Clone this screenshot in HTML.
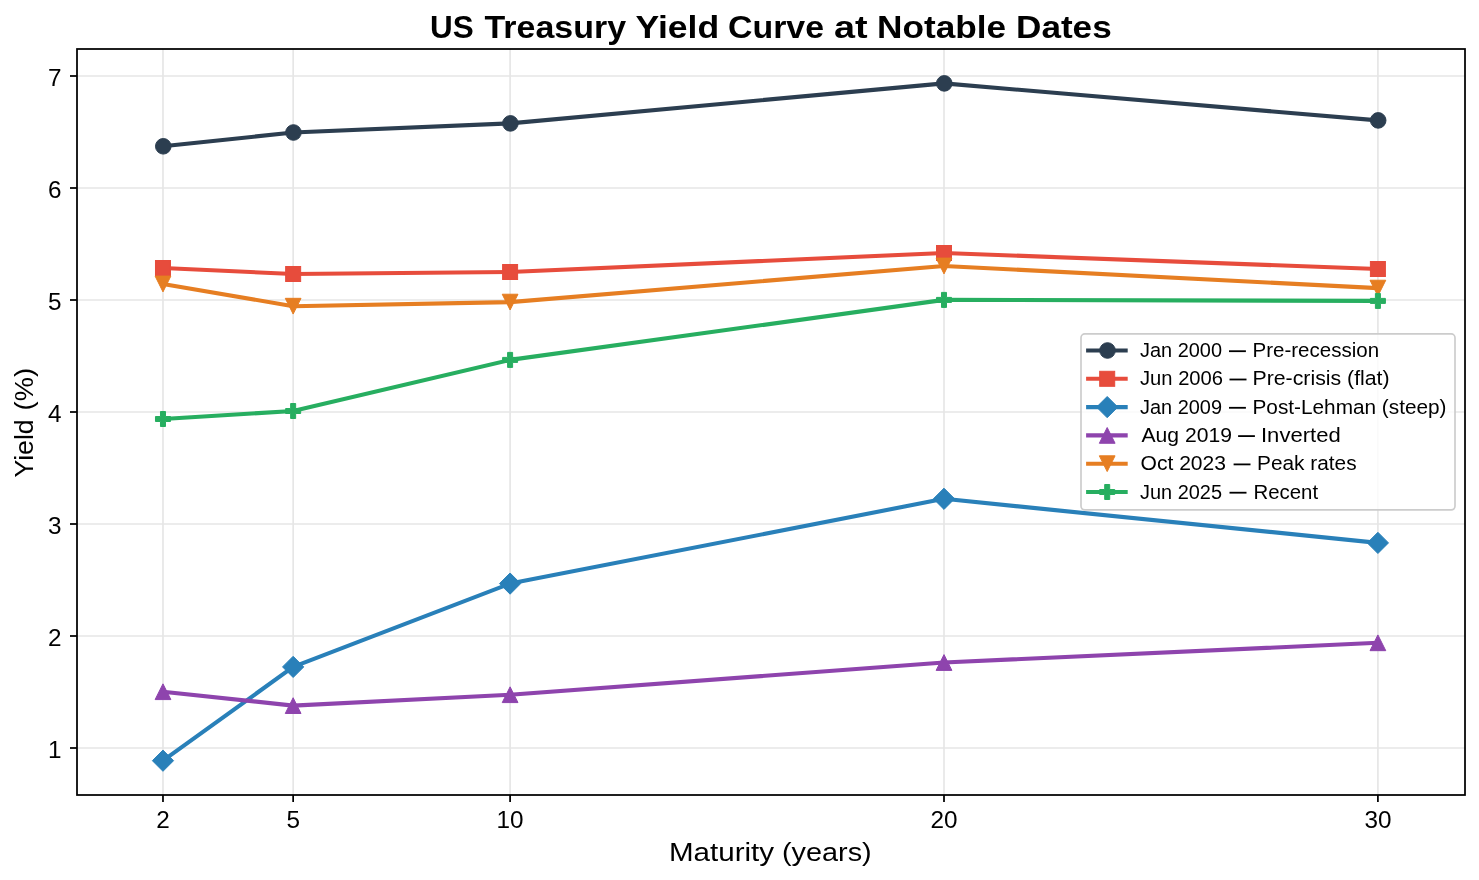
<!DOCTYPE html>
<html><head><meta charset="utf-8"><title>US Treasury Yield Curve at Notable Dates</title>
<style>html,body{margin:0;padding:0;background:#fff;width:1479px;height:880px;overflow:hidden}</style>
</head><body>
<svg width="1479" height="880" viewBox="0 0 1479 880" style="display:block;will-change:transform;font-family:'Liberation Sans',sans-serif"><g stroke="#e6e6e6" stroke-width="1.67"><line x1="162.98" y1="49" x2="162.98" y2="795"/><line x1="293.15" y1="49" x2="293.15" y2="795"/><line x1="510.10" y1="49" x2="510.10" y2="795"/><line x1="944.00" y1="49" x2="944.00" y2="795"/><line x1="1377.90" y1="49" x2="1377.90" y2="795"/><line x1="77" y1="748.00" x2="1465" y2="748.00"/><line x1="77" y1="636.00" x2="1465" y2="636.00"/><line x1="77" y1="524.00" x2="1465" y2="524.00"/><line x1="77" y1="412.00" x2="1465" y2="412.00"/><line x1="77" y1="300.00" x2="1465" y2="300.00"/><line x1="77" y1="188.00" x2="1465" y2="188.00"/><line x1="77" y1="76.00" x2="1465" y2="76.00"/></g>
<polyline points="162.98,146.30 293.15,132.50 510.10,123.40 944.00,83.40 1377.90,120.40" fill="none" stroke="#2c3e50" stroke-width="4.1" stroke-linejoin="round" stroke-linecap="butt"/>
<circle cx="163.28" cy="146.30" r="7.80" fill="#2c3e50" stroke="#2c3e50" stroke-width="1.0" stroke-linejoin="miter"/>
<circle cx="293.45" cy="132.50" r="7.80" fill="#2c3e50" stroke="#2c3e50" stroke-width="1.0" stroke-linejoin="miter"/>
<circle cx="510.40" cy="123.40" r="7.80" fill="#2c3e50" stroke="#2c3e50" stroke-width="1.0" stroke-linejoin="miter"/>
<circle cx="944.30" cy="83.40" r="7.80" fill="#2c3e50" stroke="#2c3e50" stroke-width="1.0" stroke-linejoin="miter"/>
<circle cx="1378.20" cy="120.40" r="7.80" fill="#2c3e50" stroke="#2c3e50" stroke-width="1.0" stroke-linejoin="miter"/>
<polyline points="162.98,268.00 293.15,274.00 510.10,272.00 944.00,253.00 1377.90,269.00" fill="none" stroke="#e74c3c" stroke-width="4.1" stroke-linejoin="round" stroke-linecap="butt"/>
<rect x="155.48" y="260.50" width="15.00" height="15.00" fill="#e74c3c" stroke="#e74c3c" stroke-width="1.0" stroke-linejoin="miter"/>
<rect x="285.65" y="266.50" width="15.00" height="15.00" fill="#e74c3c" stroke="#e74c3c" stroke-width="1.0" stroke-linejoin="miter"/>
<rect x="502.60" y="264.50" width="15.00" height="15.00" fill="#e74c3c" stroke="#e74c3c" stroke-width="1.0" stroke-linejoin="miter"/>
<rect x="936.50" y="245.50" width="15.00" height="15.00" fill="#e74c3c" stroke="#e74c3c" stroke-width="1.0" stroke-linejoin="miter"/>
<rect x="1370.40" y="261.50" width="15.00" height="15.00" fill="#e74c3c" stroke="#e74c3c" stroke-width="1.0" stroke-linejoin="miter"/>
<polyline points="162.98,760.70 293.15,666.90 510.10,583.60 944.00,498.80 1377.90,542.90" fill="none" stroke="#2980b9" stroke-width="4.1" stroke-linejoin="round" stroke-linecap="butt"/>
<path d="M162.98,750.09 L173.59,760.70 L162.98,771.31 L152.37,760.70Z" fill="#2980b9" stroke="#2980b9" stroke-width="1.0" stroke-linejoin="miter"/>
<path d="M293.15,656.29 L303.76,666.90 L293.15,677.51 L282.54,666.90Z" fill="#2980b9" stroke="#2980b9" stroke-width="1.0" stroke-linejoin="miter"/>
<path d="M510.10,572.99 L520.71,583.60 L510.10,594.21 L499.49,583.60Z" fill="#2980b9" stroke="#2980b9" stroke-width="1.0" stroke-linejoin="miter"/>
<path d="M944.00,488.19 L954.61,498.80 L944.00,509.41 L933.39,498.80Z" fill="#2980b9" stroke="#2980b9" stroke-width="1.0" stroke-linejoin="miter"/>
<path d="M1377.90,532.29 L1388.51,542.90 L1377.90,553.51 L1367.29,542.90Z" fill="#2980b9" stroke="#2980b9" stroke-width="1.0" stroke-linejoin="miter"/>
<polyline points="162.98,691.70 293.15,705.60 510.10,694.70 944.00,662.50 1377.90,642.80" fill="none" stroke="#8e44ad" stroke-width="4.1" stroke-linejoin="round" stroke-linecap="butt"/>
<path d="M162.98,683.83 L170.86,699.58 L155.11,699.58Z" fill="#8e44ad" stroke="#8e44ad" stroke-width="1.0" stroke-linejoin="miter"/>
<path d="M293.15,697.73 L301.02,713.48 L285.27,713.48Z" fill="#8e44ad" stroke="#8e44ad" stroke-width="1.0" stroke-linejoin="miter"/>
<path d="M510.10,686.83 L517.97,702.58 L502.22,702.58Z" fill="#8e44ad" stroke="#8e44ad" stroke-width="1.0" stroke-linejoin="miter"/>
<path d="M944.00,654.62 L951.88,670.38 L936.12,670.38Z" fill="#8e44ad" stroke="#8e44ad" stroke-width="1.0" stroke-linejoin="miter"/>
<path d="M1377.90,634.92 L1385.78,650.67 L1370.03,650.67Z" fill="#8e44ad" stroke="#8e44ad" stroke-width="1.0" stroke-linejoin="miter"/>
<polyline points="162.98,284.00 293.15,306.20 510.10,302.10 944.00,266.00 1377.90,288.10" fill="none" stroke="#e67e22" stroke-width="4.1" stroke-linejoin="round" stroke-linecap="butt"/>
<path d="M162.98,291.88 L170.86,276.12 L155.11,276.12Z" fill="#e67e22" stroke="#e67e22" stroke-width="1.0" stroke-linejoin="miter"/>
<path d="M293.15,314.07 L301.02,298.32 L285.27,298.32Z" fill="#e67e22" stroke="#e67e22" stroke-width="1.0" stroke-linejoin="miter"/>
<path d="M510.10,309.98 L517.97,294.23 L502.22,294.23Z" fill="#e67e22" stroke="#e67e22" stroke-width="1.0" stroke-linejoin="miter"/>
<path d="M944.00,273.88 L951.88,258.12 L936.12,258.12Z" fill="#e67e22" stroke="#e67e22" stroke-width="1.0" stroke-linejoin="miter"/>
<path d="M1377.90,295.98 L1385.78,280.23 L1370.03,280.23Z" fill="#e67e22" stroke="#e67e22" stroke-width="1.0" stroke-linejoin="miter"/>
<polyline points="162.98,419.00 293.15,411.00 510.10,359.90 944.00,299.90 1377.90,300.90" fill="none" stroke="#27ae60" stroke-width="4.1" stroke-linejoin="round" stroke-linecap="butt"/>
<path d="M160.48,411.50 L160.48,416.50 L155.48,416.50 L155.48,421.50 L160.48,421.50 L160.48,426.50 L165.48,426.50 L165.48,421.50 L170.48,421.50 L170.48,416.50 L165.48,416.50 L165.48,411.50Z" fill="#27ae60" stroke="#27ae60" stroke-width="1.0" stroke-linejoin="miter"/>
<path d="M290.65,403.50 L290.65,408.50 L285.65,408.50 L285.65,413.50 L290.65,413.50 L290.65,418.50 L295.65,418.50 L295.65,413.50 L300.65,413.50 L300.65,408.50 L295.65,408.50 L295.65,403.50Z" fill="#27ae60" stroke="#27ae60" stroke-width="1.0" stroke-linejoin="miter"/>
<path d="M507.60,352.40 L507.60,357.40 L502.60,357.40 L502.60,362.40 L507.60,362.40 L507.60,367.40 L512.60,367.40 L512.60,362.40 L517.60,362.40 L517.60,357.40 L512.60,357.40 L512.60,352.40Z" fill="#27ae60" stroke="#27ae60" stroke-width="1.0" stroke-linejoin="miter"/>
<path d="M941.50,292.40 L941.50,297.40 L936.50,297.40 L936.50,302.40 L941.50,302.40 L941.50,307.40 L946.50,307.40 L946.50,302.40 L951.50,302.40 L951.50,297.40 L946.50,297.40 L946.50,292.40Z" fill="#27ae60" stroke="#27ae60" stroke-width="1.0" stroke-linejoin="miter"/>
<path d="M1375.40,293.40 L1375.40,298.40 L1370.40,298.40 L1370.40,303.40 L1375.40,303.40 L1375.40,308.40 L1380.40,308.40 L1380.40,303.40 L1385.40,303.40 L1385.40,298.40 L1380.40,298.40 L1380.40,293.40Z" fill="#27ae60" stroke="#27ae60" stroke-width="1.0" stroke-linejoin="miter"/>
<rect x="77" y="49" width="1388" height="746" fill="none" stroke="#000" stroke-width="1.75"/>
<g stroke="#000" stroke-width="1.75"><line x1="162.98" y1="795" x2="162.98" y2="802.0"/><line x1="293.15" y1="795" x2="293.15" y2="802.0"/><line x1="510.10" y1="795" x2="510.10" y2="802.0"/><line x1="944.00" y1="795" x2="944.00" y2="802.0"/><line x1="1377.90" y1="795" x2="1377.90" y2="802.0"/><line x1="70.0" y1="748.00" x2="77" y2="748.00"/><line x1="70.0" y1="636.00" x2="77" y2="636.00"/><line x1="70.0" y1="524.00" x2="77" y2="524.00"/><line x1="70.0" y1="412.00" x2="77" y2="412.00"/><line x1="70.0" y1="300.00" x2="77" y2="300.00"/><line x1="70.0" y1="188.00" x2="77" y2="188.00"/><line x1="70.0" y1="76.00" x2="77" y2="76.00"/></g>
<text x="61.6" y="758.20" text-anchor="end" font-size="24.3" fill="#000">1</text>
<text x="61.6" y="646.20" text-anchor="end" font-size="24.3" fill="#000">2</text>
<text x="61.6" y="534.20" text-anchor="end" font-size="24.3" fill="#000">3</text>
<text x="61.6" y="422.20" text-anchor="end" font-size="24.3" fill="#000">4</text>
<text x="61.6" y="310.20" text-anchor="end" font-size="24.3" fill="#000">5</text>
<text x="61.6" y="198.20" text-anchor="end" font-size="24.3" fill="#000">6</text>
<text x="61.6" y="86.20" text-anchor="end" font-size="24.3" fill="#000">7</text>
<text x="162.98" y="828.2" text-anchor="middle" font-size="24.3" fill="#000">2</text>
<text x="293.15" y="828.2" text-anchor="middle" font-size="24.3" fill="#000">5</text>
<text x="510.10" y="828.2" text-anchor="middle" font-size="24.3" fill="#000">10</text>
<text x="944.00" y="828.2" text-anchor="middle" font-size="24.3" fill="#000">20</text>
<text x="1377.90" y="828.2" text-anchor="middle" font-size="24.3" fill="#000">30</text>
<text x="669.00" y="860.70" font-size="26.5" font-weight="normal" fill="#000" textLength="105.09" lengthAdjust="spacingAndGlyphs">Maturity</text>
<text x="782.00" y="860.70" font-size="26.5" font-weight="normal" fill="#000" textLength="89.63" lengthAdjust="spacingAndGlyphs">(years)</text>
<g transform="translate(33.1,0) rotate(-90)"><text x="-477.60" y="0" font-size="26.5" fill="#000" textLength="58.30" lengthAdjust="spacingAndGlyphs">Yield</text><text x="-410.40" y="0" font-size="26.5" fill="#000" textLength="42.50" lengthAdjust="spacingAndGlyphs">(%)</text></g>
<text x="430.00" y="37.70" font-size="31.8" font-weight="bold" fill="#000" textLength="43.70" lengthAdjust="spacingAndGlyphs">US</text>
<text x="484.50" y="37.70" font-size="31.8" font-weight="bold" fill="#000" textLength="141.51" lengthAdjust="spacingAndGlyphs">Treasury</text>
<text x="635.50" y="37.70" font-size="31.8" font-weight="bold" fill="#000" textLength="83.65" lengthAdjust="spacingAndGlyphs">Yield</text>
<text x="728.00" y="37.70" font-size="31.8" font-weight="bold" fill="#000" textLength="96.07" lengthAdjust="spacingAndGlyphs">Curve</text>
<text x="834.00" y="37.70" font-size="31.8" font-weight="bold" fill="#000" textLength="33.60" lengthAdjust="spacingAndGlyphs">at</text>
<text x="877.00" y="37.70" font-size="31.8" font-weight="bold" fill="#000" textLength="129.10" lengthAdjust="spacingAndGlyphs">Notable</text>
<text x="1016.00" y="37.70" font-size="31.8" font-weight="bold" fill="#000" textLength="95.72" lengthAdjust="spacingAndGlyphs">Dates</text>
<rect x="1081" y="333.9" width="374" height="176.0" rx="3.8" ry="3.8" fill="#fff" fill-opacity="0.8" stroke="#cccccc" stroke-width="1.67"/>
<line x1="1086.1" y1="350.50" x2="1127.7" y2="350.50" stroke="#2c3e50" stroke-width="4.1"/>
<circle cx="1107.50" cy="350.50" r="7.80" fill="#2c3e50" stroke="#2c3e50" stroke-width="1.0" stroke-linejoin="miter"/>
<text x="1140.00" y="357.00" font-size="19.9" font-weight="normal" fill="#000" textLength="82.02" lengthAdjust="spacingAndGlyphs">Jan 2000</text>
<rect x="1229.00" y="350.30" width="16.90" height="1.8" fill="#000"/>
<text x="1252.50" y="357.00" font-size="19.9" font-weight="normal" fill="#000" textLength="126.59" lengthAdjust="spacingAndGlyphs">Pre-recession</text>
<line x1="1086.1" y1="378.80" x2="1127.7" y2="378.80" stroke="#e74c3c" stroke-width="4.1"/>
<rect x="1099.70" y="371.30" width="15.00" height="15.00" fill="#e74c3c" stroke="#e74c3c" stroke-width="1.0" stroke-linejoin="miter"/>
<text x="1140.00" y="385.30" font-size="19.9" font-weight="normal" fill="#000" textLength="83.03" lengthAdjust="spacingAndGlyphs">Jun 2006</text>
<rect x="1229.50" y="378.60" width="17.00" height="1.8" fill="#000"/>
<text x="1252.50" y="385.30" font-size="19.9" font-weight="normal" fill="#000" textLength="137.10" lengthAdjust="spacingAndGlyphs">Pre-crisis (flat)</text>
<line x1="1086.1" y1="407.10" x2="1127.7" y2="407.10" stroke="#2980b9" stroke-width="4.1"/>
<path d="M1107.20,396.49 L1117.81,407.10 L1107.20,417.71 L1096.59,407.10Z" fill="#2980b9" stroke="#2980b9" stroke-width="1.0" stroke-linejoin="miter"/>
<text x="1140.00" y="413.60" font-size="19.9" font-weight="normal" fill="#000" textLength="82.02" lengthAdjust="spacingAndGlyphs">Jan 2009</text>
<rect x="1229.00" y="406.90" width="16.90" height="1.8" fill="#000"/>
<text x="1252.50" y="413.60" font-size="19.9" font-weight="normal" fill="#000" textLength="194.05" lengthAdjust="spacingAndGlyphs">Post-Lehman (steep)</text>
<line x1="1086.1" y1="435.40" x2="1127.7" y2="435.40" stroke="#8e44ad" stroke-width="4.1"/>
<path d="M1107.20,427.52 L1115.08,443.27 L1099.33,443.27Z" fill="#8e44ad" stroke="#8e44ad" stroke-width="1.0" stroke-linejoin="miter"/>
<text x="1141.50" y="441.90" font-size="19.9" font-weight="normal" fill="#000" textLength="90.52" lengthAdjust="spacingAndGlyphs">Aug 2019</text>
<rect x="1238.10" y="435.20" width="16.80" height="1.8" fill="#000"/>
<text x="1261.00" y="441.90" font-size="19.9" font-weight="normal" fill="#000" textLength="79.65" lengthAdjust="spacingAndGlyphs">Inverted</text>
<line x1="1086.1" y1="463.70" x2="1127.7" y2="463.70" stroke="#e67e22" stroke-width="4.1"/>
<path d="M1107.20,471.57 L1115.08,455.82 L1099.33,455.82Z" fill="#e67e22" stroke="#e67e22" stroke-width="1.0" stroke-linejoin="miter"/>
<text x="1140.50" y="470.20" font-size="19.9" font-weight="normal" fill="#000" textLength="85.54" lengthAdjust="spacingAndGlyphs">Oct 2023</text>
<rect x="1233.60" y="463.50" width="16.90" height="1.8" fill="#000"/>
<text x="1257.00" y="470.20" font-size="19.9" font-weight="normal" fill="#000" textLength="99.57" lengthAdjust="spacingAndGlyphs">Peak rates</text>
<line x1="1086.1" y1="492.00" x2="1127.7" y2="492.00" stroke="#27ae60" stroke-width="4.1"/>
<path d="M1104.70,484.50 L1104.70,489.50 L1099.70,489.50 L1099.70,494.50 L1104.70,494.50 L1104.70,499.50 L1109.70,499.50 L1109.70,494.50 L1114.70,494.50 L1114.70,489.50 L1109.70,489.50 L1109.70,484.50Z" fill="#27ae60" stroke="#27ae60" stroke-width="1.0" stroke-linejoin="miter"/>
<text x="1140.00" y="498.50" font-size="19.9" font-weight="normal" fill="#000" textLength="82.02" lengthAdjust="spacingAndGlyphs">Jun 2025</text>
<rect x="1229.50" y="491.80" width="17.00" height="1.8" fill="#000"/>
<text x="1253.50" y="498.50" font-size="19.9" font-weight="normal" fill="#000" textLength="64.61" lengthAdjust="spacingAndGlyphs">Recent</text></svg>
</body></html>
